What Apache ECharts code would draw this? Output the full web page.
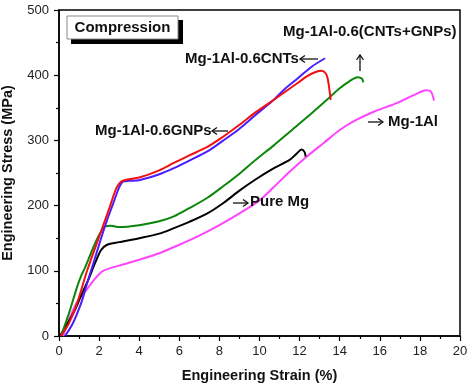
<!DOCTYPE html>
<html><head><meta charset="utf-8">
<script src="https://cdn.jsdelivr.net/npm/echarts@6/dist/echarts.min.js"></script>
<style>html,body{margin:0;padding:0;background:#fff}#c{width:474px;height:386px}</style>
</head><body><div id="c"></div>
<script>
const xTicks = [0,2,4,6,8,10,12,14,16,18,20];
const yTicks = [0,100,200,300,400,500];
const seriesNames = ['Mg-1Al-0.6(CNTs+GNPs)','Mg-1Al-0.6CNTs','Mg-1Al-0.6GNPs','Pure Mg','Mg-1Al'];
const hybrid = [[0.1,0],[0.5,20],[0.9,50],[1.4,100],[2.0,152],[2.5,195],[2.85,226],[3.1,237],[3.4,240],[4.0,243],[5.0,254],[5.7,265],[6.5,277],[7.4,290],[8.2,306],[9.0,324],[9.8,343],[10.7,362],[11.3,375],[11.9,388],[12.4,399],[12.8,405],[13.1,407],[13.3,403],[13.4,395],[13.5,375],[13.55,362]];
const cnts = [[0.3,0],[0.7,20],[1.1,50],[1.3,70],[1.45,86],[1.7,110],[2.1,150],[2.4,178],[2.7,203],[3.0,228],[3.2,237],[3.5,238],[4.0,239],[5.0,248],[5.7,257],[6.5,269],[7.4,283],[8.2,300],[9.0,318],[9.8,339],[10.7,362],[11.3,380],[11.9,395],[12.6,413],[13.27,426]];
const gnps = [[0.1,0],[0.5,35],[0.9,75],[1.1,92],[1.3,105],[1.7,135],[2.0,155],[2.3,168],[2.6,169],[3.0,167],[4.0,170],[5.0,176],[5.7,183],[6.5,196],[7.4,212],[8.2,230],[9.0,249],[9.8,270],[10.7,292],[11.5,313],[12.35,335],[13.35,362],[14.0,380],[14.5,391],[14.9,397],[15.1,395],[15.18,389]];
const pureMg = [[0.05,0],[0.4,18],[0.8,40],[1.1,62],[1.46,86],[1.8,112],[2.1,132],[2.4,140],[3.0,144],[4.0,150],[5.0,157],[5.7,165],[6.5,175],[7.4,188],[8.2,204],[9.0,223],[9.8,240],[10.7,257],[11.5,270],[11.86,280],[12.1,286],[12.25,282],[12.3,275]];
const mg1al = [[0.2,0],[0.5,25],[0.9,52],[1.4,72],[1.8,88],[2.2,100],[3.0,108],[4.0,117],[5.0,127],[6.0,140],[7.0,154],[8.0,170],[9.0,188],[10.0,208],[10.7,228],[11.5,252],[12.35,275],[13.2,296],[14.0,316],[14.8,331],[15.7,344],[16.9,358],[17.8,371],[18.3,377],[18.55,375],[18.7,361]];
const colors = ['#f21010','#4a1cff','#0a870a','#000000','#ff44ff'];
const dataSets = [hybrid,cnts,gnps,pureMg,mg1al];

const chart = echarts.init(document.getElementById('c'));
const lblFont = {fontFamily:'Liberation Sans, Arial, sans-serif', fontWeight:'bold', fontSize:15, fill:'#111'};
function txt(t,x,y,extra){return {type:'text',x:x,y:y,style:Object.assign({text:t,textVerticalAlign:'middle'},lblFont,extra||{}),z:102};}
function arrow(x1,y1,x2,y2){
  const dx=x2-x1, dy=y2-y1, L=Math.hypot(dx,dy), ux=dx/L, uy=dy/L, h=5, w=3.5;
  const bx=x2-ux*h, by=y2-uy*h;
  return [
    {type:'line',shape:{x1:x1,y1:y1,x2:x2,y2:y2},style:{stroke:'#111',lineWidth:1.3},z:102},
    {type:'polyline',shape:{points:[[bx-uy*w,by+ux*w],[x2,y2],[bx+uy*w,by-ux*w]]},style:{stroke:'#111',lineWidth:1.3,fill:null},z:102}
  ];
}
chart.setOption({
  animation:false,
  grid:{left:59,right:14,top:10,bottom:50,containLabel:false,outerBoundsMode:'none',show:true,borderColor:'#000',borderWidth:1.5,backgroundColor:'transparent'},
  xAxis:{type:'value',min:0,max:20,interval:2,
    name:'Engineering Strain (%)',nameLocation:'middle',nameGap:32,
    nameTextStyle:{fontFamily:'Liberation Sans, Arial',fontWeight:'bold',fontSize:14.5,color:'#111'},
    axisLine:{onZero:false,lineStyle:{color:'#000',width:1.5}},
    axisTick:{inside:false,length:5,lineStyle:{color:'#000',width:1.2}},
    minorTick:{show:true,splitNumber:2,length:3,lineStyle:{color:'#000',width:1.2}},
    splitLine:{show:false},
    axisLabel:{fontFamily:'Liberation Sans, Arial',fontSize:13,color:'#222',margin:9,formatter:v=>xTicks.includes(v)?String(v):''}},
  yAxis:{type:'value',min:0,max:500,interval:100,
    name:'Engineering Stress (MPa)',nameLocation:'middle',nameGap:44,
    nameTextStyle:{fontFamily:'Liberation Sans, Arial',fontWeight:'bold',fontSize:14.5,color:'#111'},
    axisLine:{show:true,lineStyle:{color:'#000',width:1.5}},
    axisTick:{show:true,inside:false,length:5,lineStyle:{color:'#000',width:1.2}},
    minorTick:{show:true,splitNumber:2,length:3,lineStyle:{color:'#000',width:1.2}},
    splitLine:{show:false},
    axisLabel:{fontFamily:'Liberation Sans, Arial',fontSize:13,color:'#222',margin:10,formatter:v=>yTicks.includes(v)?String(v):''}},
  series: dataSets.map((d,i)=>({type:'line',name:seriesNames[i],data:d,showSymbol:false,smooth:0.3,
    lineStyle:{color:colors[i],width:2},itemStyle:{color:colors[i]},z:10-i})),
  graphic:[
    {type:'rect',shape:{x:71,y:20,width:112,height:24},style:{fill:'#000'},z:100},
    {type:'rect',shape:{x:67,y:16,width:111,height:23},style:{fill:'#fff',stroke:'#888',lineWidth:1},z:101},
    txt('Compression',122.5,28,{textAlign:'center'}),
    txt('Mg-1Al-0.6(CNTs+GNPs)',283,32),
    txt('Mg-1Al-0.6CNTs',185,59),
    txt('Mg-1Al-0.6GNPs',95,131),
    txt('Pure Mg',250,202),
    txt('Mg-1Al',388,122)
  ].concat(arrow(318,59,300,59), arrow(228,131,212,131), arrow(233,203,248,203), arrow(368,122,383,122), arrow(360,71,360,55))
});
</script></body></html>
